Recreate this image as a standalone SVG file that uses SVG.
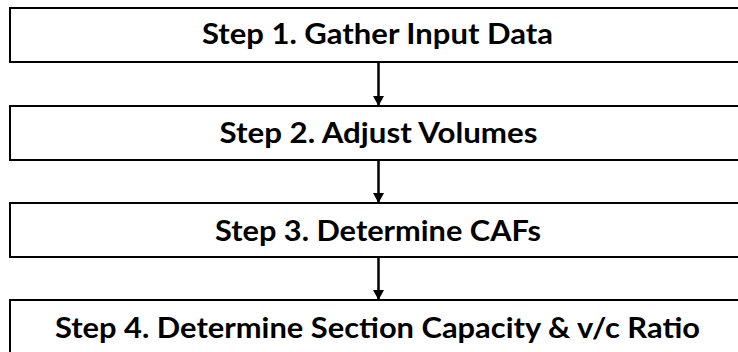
<svg xmlns="http://www.w3.org/2000/svg" width="738" height="352" viewBox="0 0 738 352">
<defs>
<style>
.box{fill:#fff;stroke:#000;stroke-width:2}
.lbl{font-family:Lato,"Open Sans","Liberation Sans",sans-serif;font-weight:bold;font-size:28px;fill:#000}
.conn{stroke:#000;stroke-width:2.5;fill:none}
</style>
<marker id="arr" markerUnits="userSpaceOnUse" markerWidth="11" markerHeight="11" refX="10" refY="5.5" orient="auto">
<path d="M0,0 L10,5.5 L0,11 Z" fill="#000"/>
</marker>
</defs>
<rect width="738" height="352" fill="#fff"/>
<g id="connectors">
<line class="conn" x1="378.5" y1="62" x2="378.5" y2="106" marker-end="url(#arr)"/>
<line class="conn" x1="378.5" y1="160" x2="378.5" y2="203" marker-end="url(#arr)"/>
<line class="conn" x1="378.5" y1="257" x2="378.5" y2="300" marker-end="url(#arr)"/>
</g>
<g id="step1">
<rect class="box" x="10" y="8" width="740" height="54"/>
<text class="lbl" x="202" y="44.3" textLength="351" lengthAdjust="spacingAndGlyphs">Step 1. Gather Input Data</text>
</g>
<g id="step2">
<rect class="box" x="10" y="106" width="740" height="54"/>
<text class="lbl" x="219.5" y="142.7" textLength="318" lengthAdjust="spacingAndGlyphs">Step 2. Adjust Volumes</text>
</g>
<g id="step3">
<rect class="box" x="10" y="203" width="740" height="54"/>
<text class="lbl" x="215" y="240.7" textLength="326" lengthAdjust="spacingAndGlyphs">Step 3. Determine CAFs</text>
</g>
<g id="step4">
<rect class="box" x="10" y="300" width="740" height="60"/>
<text class="lbl" x="55" y="338.3" textLength="645" lengthAdjust="spacingAndGlyphs">Step 4. Determine Section Capacity &amp; v/c Ratio</text>
</g>
</svg>
